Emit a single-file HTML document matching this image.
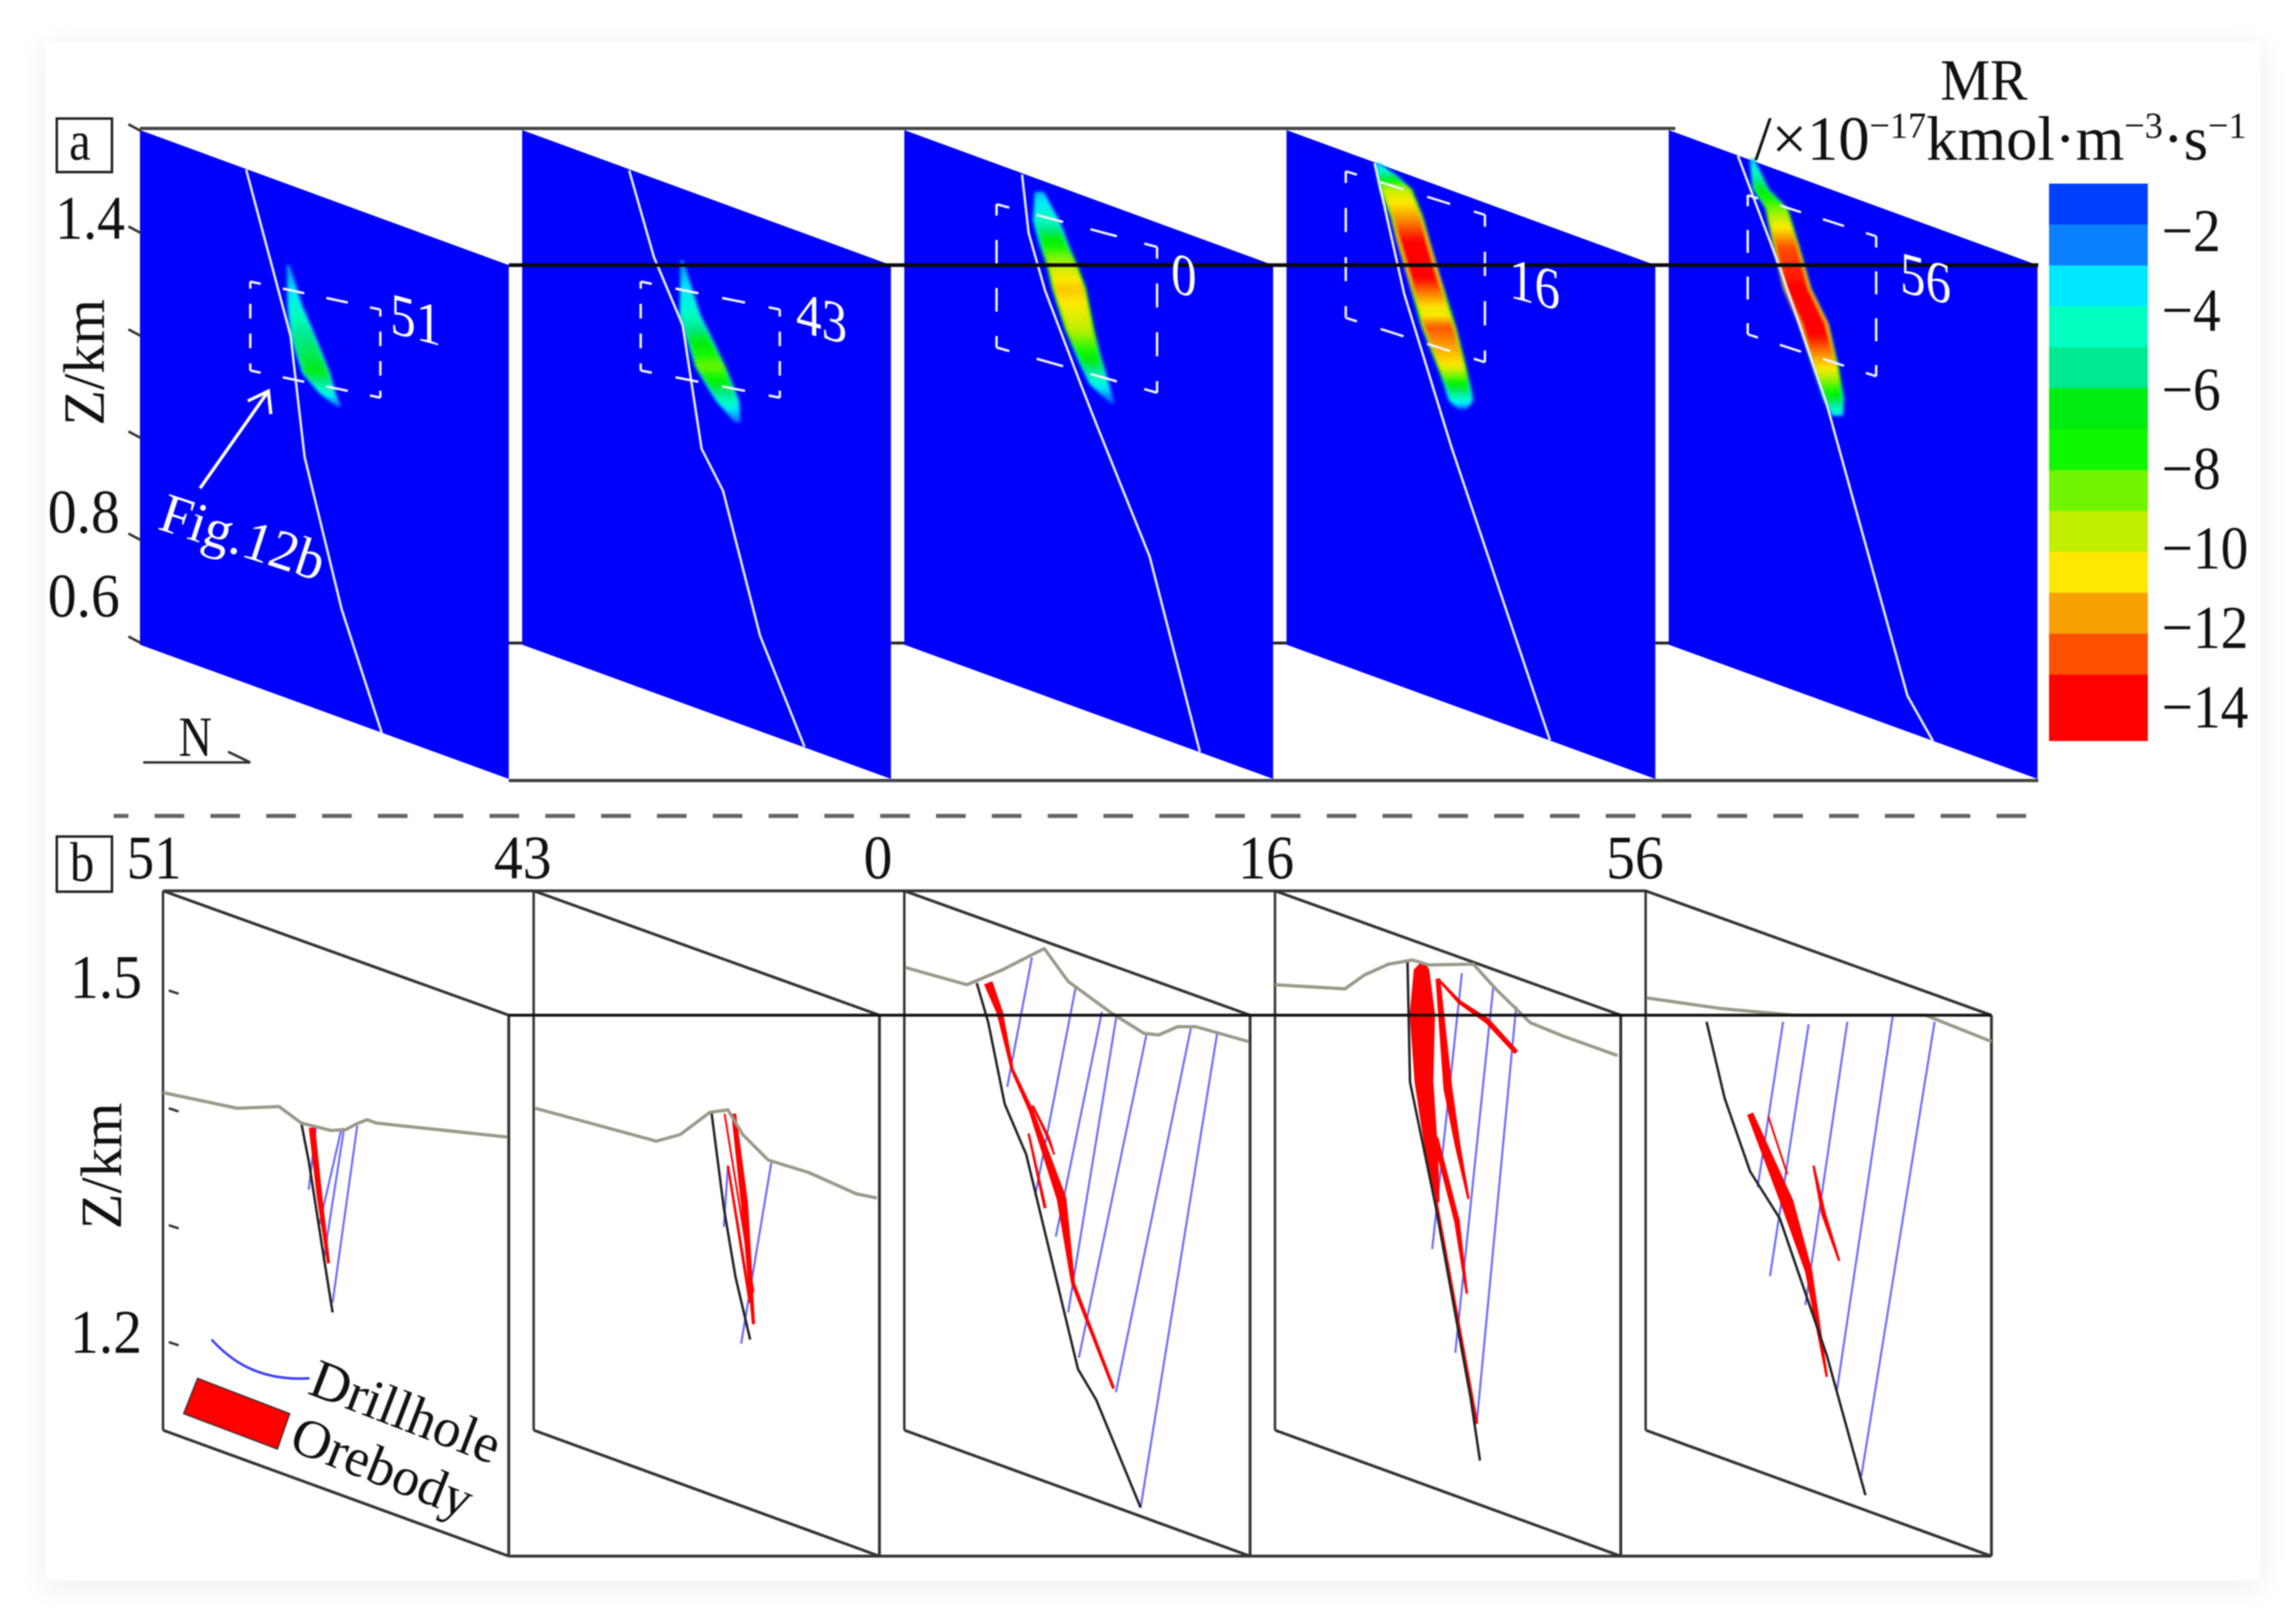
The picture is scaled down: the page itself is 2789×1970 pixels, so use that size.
<!DOCTYPE html>
<html lang="en">
<head>
<meta charset="utf-8">
<title>Mineralization rate sections and orebody sections</title>
<style>
html,body{margin:0;padding:0;background:#fff;width:2789px;height:1970px;overflow:hidden}
#card{position:absolute;left:55px;top:52px;width:2691px;height:1868px;background:#fff;box-shadow:0 6px 36px rgba(0,0,0,.07)}
svg{position:absolute;left:0;top:0;font-family:"Liberation Serif",serif}
text{fill:#111}
.w{fill:#fff}
</style>
</head>
<body>
<div id="card"></div>
<svg id="fig" width="2789" height="1970" viewBox="0 0 2789 1970" style="filter:blur(.7px)">
  <g id="panelA"></g>
  <g id="panelB"></g>
  <g id="colorbar"></g>

  <rect x="69" y="144" width="67" height="65" fill="#fff" stroke="#222" stroke-width="3"/>
  <text transform="translate(84,194) scale(.95,1.1)" font-size="62">a</text>
  <rect x="69" y="1016" width="67" height="67" fill="#fff" stroke="#222" stroke-width="3"/>
  <text transform="translate(85,1070) scale(.95,1.1)" font-size="62">b</text>

  <text transform="translate(67,290) scale(.97,1.08)" font-size="70">1.4</text>
  <text transform="translate(58,647) scale(1,1.08)" font-size="70">0.8</text>
  <text transform="translate(58,749) scale(1,1.08)" font-size="70">0.6</text>
  <text transform="translate(126,517) rotate(-90)" font-size="71">Z/km</text>

  <g stroke="#333" stroke-width="3" fill="none">
    <path d="M174 926H304M277 913L304 926"/>
  </g>
  <text transform="translate(217,918) scale(.85,1.05)" font-size="66">N</text>

  <path d="M243 593L326 475M301 487L326 475L329 503" stroke="#fff" stroke-width="4" fill="none"/>
  <text class="w" transform="translate(190,642) rotate(18) scale(1.08,1.1)" font-size="62">Fig.12b</text>

  <text class="w" transform="translate(505,412) skewY(15) scale(1,1.15)" font-size="62" text-anchor="middle">51</text>
  <text class="w" transform="translate(998,410) skewY(15) scale(1,1.15)" font-size="62" text-anchor="middle">43</text>
  <text class="w" transform="translate(1438,358) skewY(15) scale(1,1.15)" font-size="62" text-anchor="middle">0</text>
  <text class="w" transform="translate(1864,369) skewY(15) scale(1,1.15)" font-size="62" text-anchor="middle">16</text>
  <text class="w" transform="translate(2339,362) skewY(15) scale(1,1.15)" font-size="62" text-anchor="middle">56</text>

  <text transform="translate(2357,121) scale(1,1.05)" font-size="68">MR</text>
  <text transform="translate(2131,194)" font-size="76">/×10<tspan dy="-27" font-size="44">−17</tspan><tspan dy="27">kmol·m</tspan><tspan dy="-27" font-size="44">−3</tspan><tspan dy="27">·s</tspan><tspan dy="-27" font-size="44">−1</tspan></text>

  <text transform="translate(154,1067) scale(.95,1.08)" font-size="70">51</text>
  <text transform="translate(600,1067) scale(1,1.08)" font-size="70">43</text>
  <text transform="translate(1049,1067) scale(1,1.08)" font-size="70">0</text>
  <text transform="translate(1504,1067) scale(.97,1.08)" font-size="70">16</text>
  <text transform="translate(1951,1067) scale(1,1.08)" font-size="70">56</text>

  <text transform="translate(85,1212) scale(1,1.08)" font-size="70">1.5</text>
  <text transform="translate(85,1643) scale(1,1.08)" font-size="70">1.2</text>
  <text transform="translate(147,1493) rotate(-90)" font-size="71">Z/km</text>

  <path d="M257 1627C278 1650 312 1678 376 1674" fill="none" stroke="#3c3cff" stroke-width="3"/>
  <polygon points="240,1674 352,1717 337,1760 223,1717" fill="#f00" stroke="#333" stroke-width="1.5"/>
  <text transform="translate(372,1692) rotate(21)" font-size="67">Drillhole</text>
  <text transform="translate(349,1760) rotate(21.5)" font-size="66">Orebody</text>
</svg>
<script>
/* ---------- colour scale ---------- */
const colorbarBands = ['#0040ff','#0a80ff','#00e8ff','#00ffc0','#00e890','#00ec10','#10f800','#70f400','#c0f000','#ffe800','#f8a000','#ff5000','#ff0000','#ff0000'];
const colorbarTicks = [-2,-4,-6,-8,-10,-12,-14];

/* ---------- panel a: section traces, [along, depth] ---------- */
const faultA0 = [[129,48],[183,250],[200,397],[245,582],[294,733]];
const faultA1 = [[130,49],[160,154],[195,237],[218,387],[244,438],[289,614],[343,749]];
const faultA2 = [[143,54],[151,125],[171,195],[214,308],[234,359],[298,518],[359,755]];
const faultA3 = [[107,40],[143,199],[200,384],[320,741]];
const faultA4 = [[84,31],[135,167],[192,333],[290,687],[321,742]];

const windowA0 = [[134,184],[292,218],[292,325],[134,292]];
const windowA1 = [[144,184],[313,218],[313,325],[144,292]];
const windowA2 = [[112,90],[307,142],[307,319],[112,264]];
const windowA3 = [[72,50],[241,103],[241,282],[72,228]];
const windowA4 = [[96,79],[252,129],[252,299],[96,248]];

/* plume: [along, depth, half-width, |MR|] */
const plumeA0 = [[180,164,2,2],[188,212,9,3.5],[198,250,15,5],[214,295,17,6],[228,320,10,3.5],[242,336,3,1.5]];
const plumeA1 = [[194,158,2,2],[204,225,13,4],[229,288,19,8],[250,330,14,4],[262,355,4,1.5]];
const plumeA2 = [[164,75,6,2.5],[172,109,16,4],[183,142,18,7],[192,165,19,9],[200,192,21,10.5],[213,242,18,9],[224,275,15,6.5],[237,309,12,3.5],[253,332,3,1.2]];
const plumeA3 = [[110,40,3,2.5],[122,55,12,5],[133,72,20,9],[146,105,20,11],[154,135,20,13],[167,179,20,13],[180,222,21,9.5],[185,239,21,12],[200,285,18,10],[208,312,16,6],[212,329,15,3.5],[214,339,6,1.5]];
const plumeA4 = [[101,35,3,2.5],[112,72,10,6],[131,95,14,8],[143,142,16,12],[156,192,17,13],[176,235,18,14],[191,289,16,10],[200,325,13,6],[205,347,7,3]];

/* ---------- panel b: section traces, [along, depth] ---------- */
const surfaceB0 = [[0,245],[90,264],[141,262],[168,282],[204,291],[222,290],[235,283],[248,278],[259,282],[418,299]];
const surfaceB1 = [[2,264],[149,304],[178,296],[214,269],[236,266],[254,296],[285,327],[334,342],[392,368],[417,373]];
const surfaceB2 = [[1,93],[76,114],[119,96],[170,70],[199,110],[251,148],[291,173],[309,175],[332,165],[354,165],[418,183]];
const surfaceB3 = [[0,114],[85,119],[109,102],[138,89],[167,84],[187,90],[241,89],[270,121],[310,160],[349,176],[416,200]];
const surfaceB4 = [[1,130],[92,143],[180,151],[340,151],[420,183]];

const faultB0 = [[168,282],[177,328],[195,443],[206,512]];
const faultB1 = [[216,269],[231,385],[245,468],[263,545]];
const faultB2 = [[88,112],[102,160],[122,259],[148,320],[211,581],[233,618],[287,749]];
const faultB3 = [[161,86],[164,232],[195,382],[238,618],[249,692]];
const faultB4 = [[74,159],[96,252],[127,341],[163,398],[220,564],[267,734]];

const drillB0 = [[[186,287],[177,363]],[[217,288],[190,405]],[[220,288],[195,449]],[[236,285],[206,500]]];
const drillB1 = [[[289,328],[252,550]],[[236,334],[231,408]]];
const drillB2 = [[[155,81],[125,238]],[[208,118],[159,370]],[[240,147],[184,420]],[[258,150],[199,512]],[[294,175],[212,567]],[[348,167],[257,609]],[[380,173],[287,749]]];
const drillB3 = [[[227,100],[191,435]],[[265,118],[219,561]],[[293,140],[245,647]]];
const drillB4 = [[[167,159],[136,360]],[[198,162],[151,468]],[[245,159],[194,503]],[[300,153],[232,609]],[[351,159],[262,711]]];

/* orebody ribbons: [along, depth, thickness] */
const oreB0 = [[[181,288,7],[190,370,6],[201,452,3]]];
const oreB1 = [[[243,271,5],[256,379,8],[267,526,3]],[[232,271,1.5],[267,487,1.5]],[[236,334,2],[263,500,3]]];
const oreB2 = [[[102,112,10],[116,148,7],[131,217,3],[154,267,5],[191,374,11],[205,477,4],[254,604,3]],[[156,261,2],[175,300,3],[182,320,1.5]],[[151,295,2],[171,385,3]]];
const oreB3 = [[[180,88,6],[178,96,18],[179,150,30],[181,232,22],[191,324,14],[198,378,3]],[[198,107,5],[210,240,10],[222,310,6],[235,374,2]],[[195,300,6],[221,401,6],[233,489,2]],[[195,374,3],[245,647,3]],[[198,107,2],[224,135,4],[258,158,6],[293,196,5]]];
const oreB4 = [[[127,271,7],[172,379,15],[198,462,8],[220,590,2]],[[149,274,1.5],[172,344,1.5]],[[204,334,2],[216,392,5],[235,449,2]]];

const sectionsA = [
  {fault:faultA0,win:windowA0,plume:plumeA0},
  {fault:faultA1,win:windowA1,plume:plumeA1},
  {fault:faultA2,win:windowA2,plume:plumeA2},
  {fault:faultA3,win:windowA3,plume:plumeA3},
  {fault:faultA4,win:windowA4,plume:plumeA4}
];
const sectionsB = [
  {surface:surfaceB0,fault:faultB0,drill:drillB0,ore:oreB0},
  {surface:surfaceB1,fault:faultB1,drill:drillB1,ore:oreB1},
  {surface:surfaceB2,fault:faultB2,drill:drillB2,ore:oreB2},
  {surface:surfaceB3,fault:faultB3,drill:drillB3,ore:oreB3},
  {surface:surfaceB4,fault:faultB4,drill:drillB4,ore:oreB4}
];

/* ---------- axis functions ---------- */
const xA = (s,u) => 170 + 464.25*s + u;
const yA = v => 158 + v;
const xB = (s,u) => 198 + 450.25*s + u;
const yB = v => 1082 + v;
const yBar = i => 223 + i*49.7;
const yBarTick = t => 284 + (-t-2)*48.2;

const NS = 'http://www.w3.org/2000/svg';
const gA = document.getElementById('panelA');
const gB = document.getElementById('panelB');
const gC = document.getElementById('colorbar');

function make(tag,parent,props){
  const el = document.createElementNS(NS,tag);
  for(const k in props) el.setAttribute(k,props[k]);
  parent.appendChild(el);
  return el;
}
function line(parent,name,x1,y1,x2,y2,stroke,w){
  const el = make('line',parent,{x1:x1,y1:y1,x2:x2,y2:y2,stroke:stroke,'stroke-width':w});
  
  
  return el;
}
function trace(parent,name,pts,fx,fy,stroke,w,extra){
  const el = make('polyline',parent,Object.assign({points:pts.map(p=>fx(p[0])+','+fy(p[1])).join(' '),fill:'none',stroke:stroke,'stroke-width':w,'stroke-linejoin':'round'},extra||{}));
  
  
  return el;
}

/* ---------- colormap from colorbar bands ---------- */
function hex(c){return [parseInt(c.slice(1,3),16),parseInt(c.slice(3,5),16),parseInt(c.slice(5,7),16)];}
function cmap(v){
  const stops = ['#0000ff'].concat(colorbarBands);
  const t = Math.max(0,Math.min(stops.length-1.001,v));
  const i = Math.floor(t), f = t-i, a = hex(stops[i]), b = hex(stops[i+1]);
  return 'rgb('+a.map((x,k)=>Math.round(x+(b[k]-x)*f)).join(',')+')';
}

/* ---------- blur filter for plumes ---------- */
const defs = make('defs',document.getElementById('fig'),{});
const flt = make('filter',defs,{id:'plumeBlur',x:'-30%',y:'-30%',width:'160%',height:'160%'});
make('feGaussianBlur',flt,{stdDeviation:'1.9'});

/* ---------- panel a ---------- */
sectionsA.forEach((sec,s)=>{
  const fx = u => xA(s,u), fy = yA;
  const face = make('polygon',gA,{points:[[0,0],[448,164],[448,788],[0,625]].map(p=>fx(p[0])+','+fy(p[1])).join(' '),fill:'#0000ff'});
  
  

  const plume = make('g',gA,{filter:'url(#plumeBlur)'});
  
  
  [[1,.72],[.84,1]].forEach(layer=>{
    for(let i=0;i<sec.plume.length-1;i++){
      const a = sec.plume[i], b = sec.plume[i+1];
      const n = Math.max(1,Math.round((b[1]-a[1])/5));
      for(let k=0;k<n;k++){
        const t0 = k/n, t1 = (k+1.25)/n;
        const lerp = (j,t)=>a[j]+(b[j]-a[j])*Math.min(1,t);
        const hw0 = lerp(2,t0)*layer[0], hw1 = lerp(2,t1)*layer[0];
        const pts = [[lerp(0,t0)-hw0,lerp(1,t0)],[lerp(0,t0)+hw0,lerp(1,t0)],[lerp(0,t1)+hw1,lerp(1,t1)],[lerp(0,t1)-hw1,lerp(1,t1)]];
        const q = make('polygon',plume,{points:pts.map(p=>fx(p[0])+','+fy(p[1])).join(' '),fill:cmap(lerp(3,t0+.5/n)*layer[1])});
        
        
      }
    }
  });

  trace(gA,'fault-trace',sec.fault,fx,fy,'#e4e8ff',3);
  sec.win.forEach((p,i)=>{
    const q = sec.win[(i+1)%sec.win.length];
    trace(gA,'fig-12b-window-edge',[p,q],fx,fy,'#f0f2ff',3,{pathLength:100,'stroke-dasharray':'8 17 16.5 17 16.5 17 8 0'});
  });

  if(s<4){
    line(gA,'section-connector',xA(s,448),yA(623),xA(s+1,0),yA(623),'#222',3.5);
  }
});
line(gA,'a-top-frame-line',170,156,2035,156,'#444',4);
line(gA,'a-middle-frame-line',618,322,2476,322,'#0a0a0a',4.5);
line(gA,'a-bottom-frame-line',618,948,2476,948,'#444',4);
[156,280,405,529,653,778].forEach(v=>{
  line(gA,'a-z-tick',156,v-5,171,v+3,'#333',3);
});

/* dashed separator */
const sep = line(gA,'panel-separator',138,991,2463,991,'#666',5);
sep.setAttribute('stroke-dasharray','36 31.8');
sep.setAttribute('stroke-dashoffset','18');

/* ---------- panel b ---------- */
function ribbon(pts,fx,fy){
  const L=[],R=[];
  pts.forEach((p,i)=>{
    const a = pts[Math.max(0,i-1)], b = pts[Math.min(pts.length-1,i+1)];
    const dx=b[0]-a[0], dy=b[1]-a[1], d=Math.hypot(dx,dy)||1;
    const nx=-dy/d*p[2]/2, ny=dx/d*p[2]/2;
    L.push(fx(p[0]+nx)+','+fy(p[1]+ny));
    R.unshift(fx(p[0]-nx)+','+fy(p[1]-ny));
  });
  return L.concat(R).join(' ');
}
sectionsB.forEach((sec,s)=>{
  const fx = u => xB(s,u), fy = yB;
  const stroke = '#333';
  line(gB,'box-back-edge',fx(0),fy(0),fx(0),fy(655),stroke,3);
  line(gB,'box-front-edge',fx(420),fy(151),fx(420),fy(808),stroke,3.5);
  line(gB,'box-top-diagonal',fx(0),fy(0),fx(420),fy(151),stroke,3.5);
  line(gB,'box-bottom-diagonal',fx(0),fy(655),fx(420),fy(808),stroke,3.5);

  sec.drill.forEach(d=>trace(gB,'drillhole',d,fx,fy,'#6a6aff',2.5));
  sec.ore.forEach(o=>{
    const el = make('polygon',gB,{points:ribbon(o,fx,fy),fill:'#f00',stroke:'#f00','stroke-width':.8});
    
    
  });
  trace(gB,'fault-trace',sec.fault,fx,fy,'#222',3);
  trace(gB,'surface-profile',sec.surface,fx,fy,'#9a9a8a',4);
});
line(gB,'b-top-frame-line',198,1082,2000,1082,'#333',3.5);
line(gB,'b-middle-frame-line',618,1233,2419,1233,'#111',3.5);
line(gB,'b-bottom-frame-line',618,1890,2419,1890,'#333',3.5);
[1205,1348,1490,1632].forEach(v=>{
  line(gB,'b-z-tick',205,v-2,217,v+2,'#333',3);
});

/* ---------- colorbar ---------- */
colorbarBands.forEach((c,i)=>{
  const el = make('rect',gC,{x:2489,y:yBar(i),width:120,height:i===13?900-yBar(i):50.2,fill:c});
  
  
});
colorbarTicks.forEach(t=>{
  const el = make('text',gC,{transform:'translate(2626,'+(yBarTick(t)+21)+') scale(.96,1.06)','font-size':70});
  el.textContent = '−'+Math.abs(t);
  
  
});
</script>
</body>
</html>
